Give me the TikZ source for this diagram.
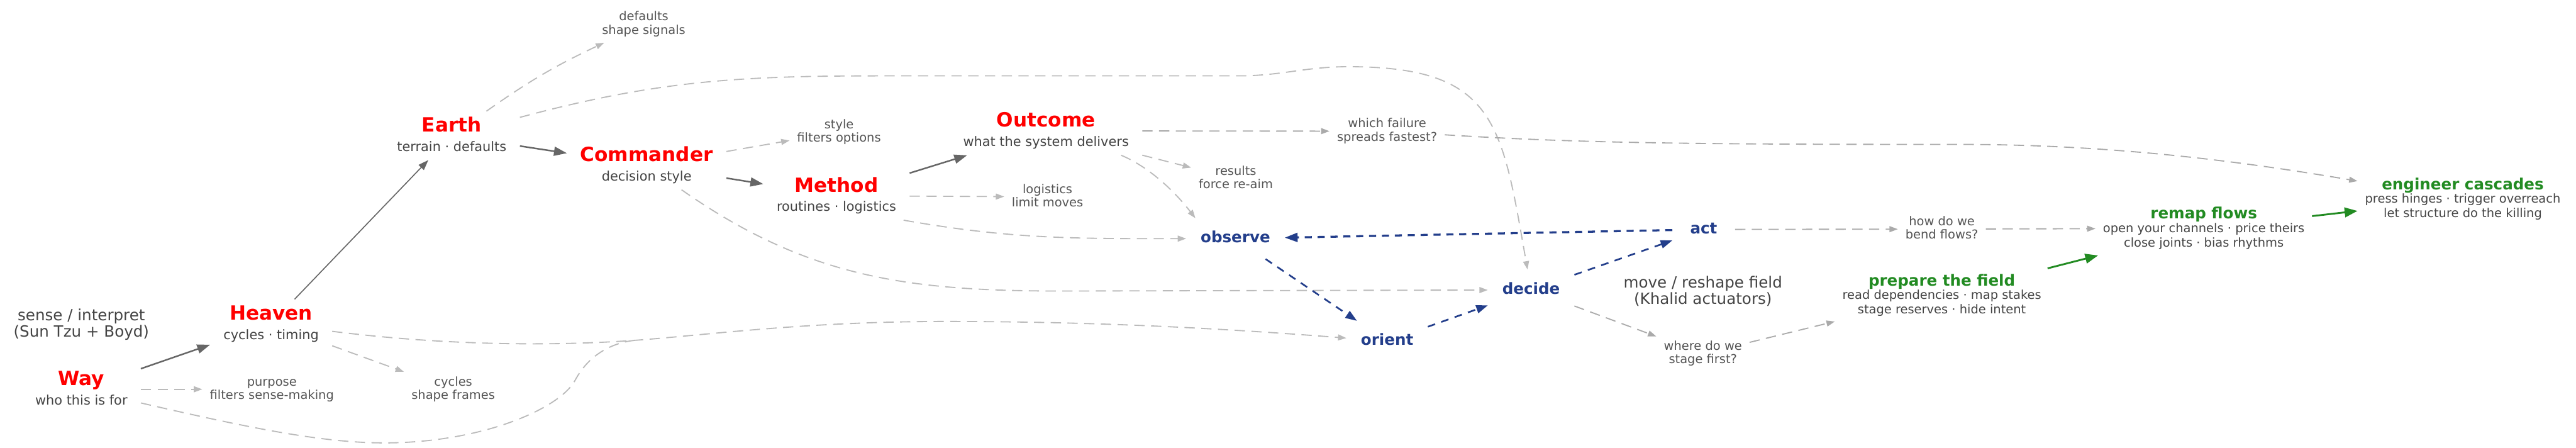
\documentclass[tikz,border=0pt]{standalone}
\usepackage{fontspec}
\setmainfont{DejaVu Sans}
\usetikzlibrary{arrows.meta}

\begin{document}
\begin{tikzpicture}[
    font=\fontsize{10.2}{15}\selectfont,
    major/.style={align=center,inner xsep=0.36cm,inner ysep=0.15cm,minimum height=1.1cm,text=subgray,font=\fontsize{10.2}{15}\selectfont},
    phase/.style={align=center,inner xsep=0.39cm,inner ysep=0.15cm,minimum width=1.7cm,minimum height=1.1cm,text=oodablue,font=\fontsize{12}{14}\selectfont\bfseries,text height=9.12pt,text depth=2.88pt},
    play/.style={align=center,inner xsep=0.2cm,inner ysep=0.15cm,text=subgray,font=\fontsize{9.5}{11.3}\selectfont},
    hint/.style={align=center,inner xsep=0.2cm,inner ysep=0.15cm,minimum height=1cm,text=hintgray,font=\fontsize{9.5}{10.4}\selectfont},
    aside/.style={align=center,text=subgray,font=\fontsize{12}{12.8}\selectfont},
    flow/.style={draw=flowgray,line width=1.2pt,-{Triangle[length=10pt,width=7pt]}},
    thinflow/.style={flow,line width=0.8pt,-{Triangle[length=8pt,width=5.6pt]}},
    link/.style={draw=linkgray,line width=0.9pt,dash pattern=on 8pt off 5pt,-{Triangle[length=6.5pt,width=4.6pt]}},
    linkdk/.style={link,draw=linkdark},
    oodalink/.style={draw=oodablue,line width=1.3pt,dash pattern=on 6pt off 5pt,-{Triangle[length=9pt,width=6.3pt]}},
    push/.style={draw=playgreen,line width=1.4pt,-{Triangle[length=10pt,width=7.5pt]}},
]
\definecolor{headred}{RGB}{255,0,0}     \definecolor{subgray}{RGB}{68,68,68}
\definecolor{hintgray}{RGB}{85,85,85}   \definecolor{oodablue}{RGB}{35,62,139}
\definecolor{playgreen}{RGB}{34,139,34} \definecolor{flowgray}{RGB}{102,102,102}
\definecolor{linkgray}{RGB}{187,187,187} \definecolor{linkdark}{RGB}{170,170,170}

% title line + sub line; struts keep every box the same height
\def\duo#1#2{{\fontsize{15.2}{15}\selectfont\bfseries\color{headred}\rule{0pt}{0.76em}#1}\\#2\rule[-0.24em]{0pt}{0pt}}
\def\trio#1#2#3{{\fontsize{12}{12}\selectfont\bfseries\color{playgreen}\rule{0pt}{0.76em}#1}\\[-0.9pt]#2\\#3\rule[-0.24em]{0pt}{0pt}}
\def\pair#1#2{\rule{0pt}{0.76em}#1\\#2\rule[-0.24em]{0pt}{0pt}}

\fill[white] (0,0) rectangle (70.31,12.22);
\useasboundingbox (0,0) rectangle (70.31,12.22);

% ================= Sun Tzu factors (red) =================
\node[aside] (sense) at (2.22,3.36) {\pair{sense / interpret}{(Sun Tzu + Boyd)}};
\node[major] (way) at (2.22,1.60) {\duo{Way}{who this is for}};
\node[major] (heaven) at (7.40,3.39) {\duo{Heaven}{cycles · timing}};
\node[major] (earth) at (12.33,8.52) {\duo{Earth}{terrain · defaults}};
\node[major] (commander) at (17.65,7.71) {\duo{Commander}{decision style}};
\node[major] (method) at (22.83,6.88) {\duo{Method}{routines · logistics}};
\node[major] (outcome) at (28.55,8.65) {\duo{Outcome}{what the system delivers}};

% small notes hanging off the factors
\node[hint] (purpose) at (7.42,1.60) {\pair{purpose}{filters sense-making}};
\node[hint] (frames) at (12.37,1.59) {\pair{cycles}{shape frames}};
\node[hint] (signals) at (17.57,11.56) {\pair{defaults}{shape signals}};
\node[hint] (options) at (22.90,8.62) {\pair{style}{filters options}};
\node[hint] (limits) at (28.59,6.85) {\pair{logistics}{limit moves}};
\node[hint] (reaim) at (33.73,7.34) {\pair{results}{force re-aim}};
\node[hint] (failure) at (37.86,8.64) {\pair{which failure}{spreads fastest?}};

% ================= OODA loop (blue) =================
\node[phase] (observe) at (33.72,5.71) {observe};
\node[phase] (orient) at (37.86,2.91) {orient};
\node[phase] (decide) at (41.79,4.31) {decide};
\node[phase] (act) at (46.50,5.96) {act};

% ================= Khalid actuators (green) =================
\node[aside] (khalid) at (46.48,4.25) {\pair{move / reshape field}{(Khalid actuators)}};
\node[hint] (stage) at (46.48,2.57) {\pair{where do we}{stage first?}};
\node[hint] (bend) at (53.00,5.97) {\pair{how do we}{bend flows?}};
\node[play] (prepare) at (53.00,4.16) {\trio{prepare the field}{read dependencies · map stakes}{stage reserves · hide intent}};
\node[play] (remap) at (60.15,5.99) {\trio{remap flows}{open your channels · price theirs}{close joints · bias rhythms}};
\node[play] (cascade) at (67.22,6.79) {\trio{engineer cascades}{press hinges · trigger overreach}{let structure do the killing}};

% ================= connectors =================
\draw[flow] (way) -- (heaven);
\draw[thinflow] (heaven) -- (earth);
\foreach \a/\b in {earth/commander,commander/method,method/outcome} { \draw[flow] (\a) -- (\b); }

\foreach \a/\b in {way/purpose,heaven/frames,commander/options,method/limits,outcome/reaim} { \draw[link] (\a) -- (\b); }
\draw[link] (earth) to[bend left=5] (signals);
\draw[linkdk] (outcome) -- (failure);

% long sweeps into the loop (way joins the heaven line)
\coordinate (join) at (17.39,2.94);
\draw[link,-] (way) .. controls (7,0.5) and (9,0.1) .. (10.74,0.14) .. controls (13.3,0.2) and (15.3,1.1) .. (15.7,1.85) .. controls (16.1,2.6) and (16.8,2.9) .. (join);
\draw[link] (heaven) .. controls (12.5,2.75) and (15.5,2.8) .. (join) .. controls (19.4,3.09) and (22,3.45) .. (25.8,3.45) .. controls (30,3.45) and (33.5,3.25) .. (orient);
\draw[link] (earth) to[out=15,in=180] (24,10.15) -- (33.8,10.15) to[out=0,in=180] (36.8,10.4) to[out=0,in=100,looseness=1.4] (decide);
\draw[link] (commander) to[out=-35,in=180] (29,4.28) -- (decide);
\draw[link] (method.-20) to[out=-10,in=180] (observe);
\draw[link] (outcome.-18) .. controls (31.4,7.65) and (32.1,6.95) .. (observe.153);
\draw[linkdk] (failure) .. controls (43,8.32) and (46,8.28) .. (53.5,8.28) .. controls (57.5,8.28) and (61,7.85) .. (cascade);

\foreach \a/\b in {observe/orient,orient/decide,decide/act} { \draw[oodalink] (\a) -- (\b); }
\draw[oodalink,line width=1.6pt,dash pattern=on 5.5pt off 4.5pt,-{Triangle[length=10pt,width=7pt]}] (act) -- (observe);

\foreach \a/\b in {decide/stage,stage/prepare,act/bend,bend/remap} { \draw[linkdk] (\a) -- (\b); }
\draw[push] (prepare) -- (remap);
\draw[push] (remap) -- (cascade);

\end{tikzpicture}
\end{document}
